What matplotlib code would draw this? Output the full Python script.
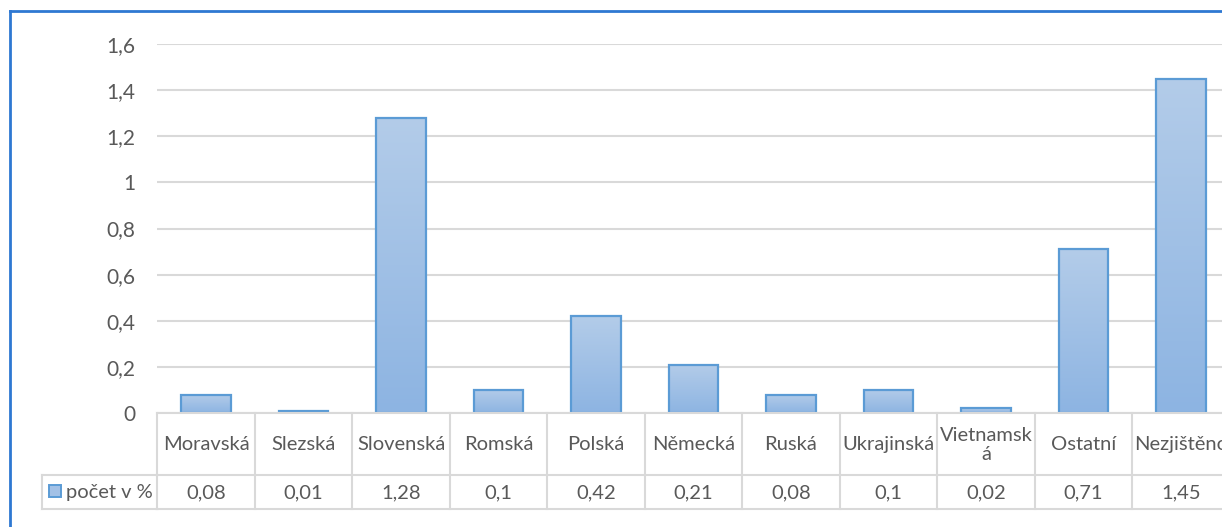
import numpy as np
import matplotlib.pyplot as plt
from matplotlib.patches import Rectangle
from matplotlib.lines import Line2D
from matplotlib.colors import LinearSegmentedColormap
from matplotlib.transforms import blended_transform_factory

# data
kategorie = ['Moravská', 'Slezská', 'Slovenská', 'Romská', 'Polská', 'Německá',
             'Ruská', 'Ukrajinská', 'Vietnamsk\ná', 'Ostatní', 'Nezjištěno']
hodnoty = [0.08, 0.01, 1.28, 0.1, 0.42, 0.21, 0.08, 0.1, 0.02, 0.71, 1.45]
popisky = ['0,08', '0,01', '1,28', '0,1', '0,42', '0,21', '0,08', '0,1', '0,02', '0,71', '1,45']
y_ticks = [0, 0.2, 0.4, 0.6, 0.8, 1.0, 1.2, 1.4, 1.6]
y_labels = ['0', '0,2', '0,4', '0,6', '0,8', '1', '1,2', '1,4', '1,6']
serie = 'počet v %'

W, H = 1222, 527
CLR_TXT = '#595959'
CLR_GRID = '#d9d9d9'
CLR_EDGE = '#5b9bd5'
CLR_BORDER = '#2e78d2'

plt.rcParams['font.family'] = ['Lato', 'DejaVu Sans']

fig = plt.figure(figsize=(W / 100, H / 100), dpi=100)

# plot area in pixels (extends past the right edge like the cropped original)
x0, x1 = 157.25, 1229.75
y_top, y_bot = 44, 413
ax = fig.add_axes([x0 / W, 1 - y_bot / H, (x1 - x0) / W, (y_bot - y_top) / H])

n = len(kategorie)

# gradient bars
grad = np.linspace(0, 1, 100).reshape(-1, 1)
cmap = LinearSegmentedColormap.from_list('g', ['#8db4e2', '#b3cce9'])
bw = 0.51
for i, v in enumerate(hodnoty):
    ax.imshow(grad, extent=[i - bw / 2, i + bw / 2, 0, v], origin='lower',
              cmap=cmap, aspect='auto', zorder=2, interpolation='bilinear')
    ax.add_patch(Rectangle((i - bw / 2, 0), bw, v, fill=False,
                           edgecolor=CLR_EDGE, linewidth=1.6, zorder=3))
ax.set_xlim(-0.5, n - 0.5)
ax.set_ylim(0, 1.6)

for y in y_ticks:
    ax.axhline(y, color=CLR_GRID, linewidth=1.5, zorder=1)

for s in ax.spines.values():
    s.set_visible(False)
ax.set_xticks([])
ax.set_yticks(y_ticks)
ax.set_yticklabels(y_labels, fontsize=15, color=CLR_TXT)
ax.tick_params(axis='y', length=0, pad=16)

# data table under the axis
tr = blended_transform_factory(ax.transData, fig.transFigure)
def fy(px):
    return 1 - px / H

t_top, t_mid, t_bot = 413, 474.5, 508.5
for yy in (t_top, t_mid, t_bot):
    fig.add_artist(Line2D([-0.5, n - 0.5], [fy(yy)] * 2, transform=tr,
                          color=CLR_GRID, linewidth=1.5))
for i in range(n + 1):
    fig.add_artist(Line2D([i - 0.5, i - 0.5], [fy(t_top), fy(t_bot)], transform=tr,
                          color=CLR_GRID, linewidth=1.5))
# row header cell
for yy in (t_mid, t_bot):
    fig.add_artist(Line2D([42 / W, x0 / W], [fy(yy)] * 2, transform=fig.transFigure,
                          color=CLR_GRID, linewidth=1.5))
fig.add_artist(Line2D([42 / W, 42 / W], [fy(t_mid), fy(t_bot)], transform=fig.transFigure,
                      color=CLR_GRID, linewidth=1.5))

for i, (k, p) in enumerate(zip(kategorie, popisky)):
    fig.text(i, fy((t_top + t_mid) / 2 + 1), k, transform=tr, ha='center', va='center',
             fontsize=14.5, color=CLR_TXT, linespacing=1.15)
    fig.text(i, fy((t_mid + t_bot) / 2 + 1), p, transform=tr, ha='center', va='center',
             fontsize=14.5, color=CLR_TXT)

# legend key + series name
fig.add_artist(Rectangle((49 / W, fy(497)), 12 / W, 12 / H, transform=fig.transFigure,
                         facecolor='#a3c1e6', edgecolor=CLR_EDGE, linewidth=1.4))
fig.text(66 / W, fy((t_mid + t_bot) / 2 + 1), serie, ha='left', va='center',
         fontsize=14.5, color=CLR_TXT)

# chart border (selected chart frame)
fig.add_artist(Line2D([10 / W, 1], [fy(11), fy(11)], transform=fig.transFigure,
                      color=CLR_BORDER, linewidth=2))
fig.add_artist(Line2D([10 / W, 10 / W], [fy(11), 0], transform=fig.transFigure,
                      color=CLR_BORDER, linewidth=2))

fig.savefig('out.png', dpi=100)
